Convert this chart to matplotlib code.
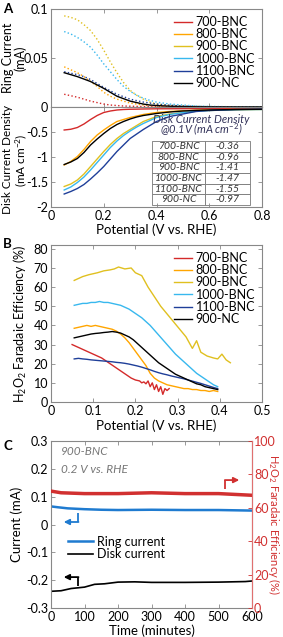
import numpy as np
import matplotlib.pyplot as plt

plt.rcParams['font.family'] = ['Lato', 'DejaVu Sans']
plt.rcParams['mathtext.fontset'] = 'custom'
plt.rcParams['mathtext.rm'] = 'Lato'
plt.rcParams['mathtext.it'] = 'Lato:italic'
plt.rcParams['font.size'] = 9

names = ['700-BNC', '800-BNC', '900-BNC', '1000-BNC', '1100-BNC', '900-NC']
colors = ['#d42a2a', '#ffa500', '#e0c020', '#38b8ee', '#1f3f99', 'black']

# panel A: ring / disk currents vs potential
E_A = [0.05, 0.075, 0.1, 0.125, 0.15, 0.175, 0.2, 0.225, 0.25, 0.275, 0.3, 0.325, 0.35,
       0.375, 0.4, 0.45, 0.5, 0.55, 0.6, 0.7, 0.8]
ring = {
    '700-BNC': [0.013, 0.0115, 0.010, 0.008, 0.006, 0.0045, 0.003, 0.002, 0.0015, 0.001, 0.0008,
                0.0006, 0.0005, 0.0004, 0.0003, 0.0002, 0.0001, 0, 0, 0, 0],
    '800-BNC': [0.041, 0.038, 0.035, 0.031, 0.026, 0.021, 0.015, 0.011, 0.008, 0.006, 0.004,
                0.003, 0.002, 0.0015, 0.001, 0.0006, 0.0004, 0.0002, 0.0001, 0, 0],
    '900-BNC': [0.093, 0.0915, 0.089, 0.084, 0.078, 0.069, 0.058, 0.046, 0.035, 0.025, 0.017,
                0.012, 0.008, 0.005, 0.003, 0.0015, 0.001, 0.0006, 0.0004, 0.0002, 0.0001],
    '1000-BNC': [0.077, 0.0745, 0.071, 0.0665, 0.061, 0.053, 0.044, 0.036, 0.028, 0.021, 0.016,
                 0.012, 0.009, 0.0068, 0.005, 0.003, 0.002, 0.001, 0.0006, 0.0002, 0.0001],
    '1100-BNC': [0.036, 0.0345, 0.033, 0.031, 0.028, 0.024, 0.020, 0.0165, 0.013, 0.0105, 0.008,
                 0.0065, 0.005, 0.004, 0.003, 0.0018, 0.001, 0.0006, 0.0003, 0.0001, 0],
    '900-NC': [0.035, 0.033, 0.031, 0.0285, 0.026, 0.0225, 0.019, 0.015, 0.011, 0.0085, 0.006,
               0.0045, 0.003, 0.002, 0.0015, 0.0008, 0.0004, 0.0002, 0.0001, 0, 0],
}
disk = {
    '700-BNC': [-0.46, -0.445, -0.41, -0.34, -0.25, -0.17, -0.11, -0.08, -0.06, -0.05, -0.045,
                -0.043, -0.04, -0.038, -0.036, -0.035, -0.034, -0.033, -0.032, -0.031, -0.03],
    '800-BNC': [-1.16, -1.09, -0.99, -0.85, -0.69, -0.56, -0.46, -0.37, -0.29, -0.25, -0.21,
                -0.18, -0.15, -0.13, -0.11, -0.09, -0.075, -0.065, -0.058, -0.05, -0.045],
    '900-BNC': [-1.59, -1.54, -1.46, -1.34, -1.19, -1.04, -0.89, -0.75, -0.63, -0.53, -0.45,
                -0.37, -0.29, -0.24, -0.19, -0.14, -0.11, -0.085, -0.07, -0.055, -0.05],
    '1000-BNC': [-1.66, -1.6, -1.51, -1.4, -1.26, -1.11, -0.96, -0.81, -0.68, -0.57, -0.48,
                 -0.4, -0.33, -0.27, -0.21, -0.15, -0.11, -0.085, -0.07, -0.055, -0.05],
    '1100-BNC': [-1.74, -1.69, -1.63, -1.55, -1.44, -1.32, -1.19, -1.04, -0.89, -0.76, -0.63,
                 -0.54, -0.45, -0.37, -0.29, -0.19, -0.14, -0.09, -0.07, -0.05, -0.04],
    '900-NC': [-1.15, -1.1, -1.03, -0.91, -0.76, -0.64, -0.53, -0.43, -0.35, -0.29, -0.24,
               -0.2, -0.17, -0.15, -0.13, -0.1, -0.08, -0.068, -0.06, -0.05, -0.045],
}
disk_01V = ['-0.36', '-0.96', '-1.41', '-1.47', '-1.55', '-0.97']

# panel B: H2O2 faradaic efficiency
E_700 = [0.05, 0.06, 0.07, 0.08, 0.09, 0.10, 0.11, 0.12, 0.13, 0.14, 0.15, 0.16, 0.17, 0.18, 0.19,
         0.20, 0.21, 0.215, 0.22, 0.225, 0.23, 0.235, 0.24, 0.245, 0.25, 0.255, 0.26, 0.265,
         0.27, 0.275, 0.28]
FE_700 = [30, 29, 28, 27, 26, 25, 24, 23, 21.5, 20, 18.5, 17, 15.5, 14, 12.5,
          11.5, 11, 10, 10.5, 9.5, 11, 8, 10, 6.5, 9, 5.5, 8, 4, 7, 6, 7]
E_B = [0.055, 0.065, 0.075, 0.085, 0.095, 0.105, 0.115, 0.125, 0.135, 0.145, 0.155, 0.165,
       0.175, 0.185, 0.195, 0.205, 0.215, 0.225, 0.235, 0.245, 0.255, 0.265, 0.275, 0.285,
       0.295, 0.305, 0.315, 0.325, 0.335, 0.345, 0.355, 0.365, 0.375, 0.385, 0.395]
FE_800 = [38.5, 39, 39.5, 40, 39.5, 40, 39.5, 39, 38.5, 38, 37, 35.5, 33.5, 31, 28, 25, 22, 19,
          15, 12.5, 11, 10, 9, 8.5, 8, 7.5, 7, 7, 6.5, 6.5, 6, 6, 5.5, 6, 5.5]
FE_1000 = [50.5, 51, 51.5, 51.5, 52, 52, 52.5, 52, 52, 51.5, 51, 50.5, 49.5, 48.5, 47, 45.5, 44,
           42, 40, 37.5, 35, 32.5, 30, 27.5, 25, 23, 21, 19, 17, 15, 13.5, 12, 10.5, 9, 8]
FE_1100 = [22.5, 22.8, 22.5, 22.3, 22, 21.8, 21.6, 21.4, 21.2, 21, 20.7, 20.5, 20.2, 19.8, 19.3,
           18.8, 18.2, 17.5, 16.8, 16, 15.3, 14.7, 14.2, 13.6, 13.1, 12.6, 12.1, 11.5, 10.9, 10.3,
           9.7, 9, 8.3, 7.6, 7]
FE_NC = [33.5, 34, 34.5, 35, 35.5, 35.8, 36, 36.3, 36.5, 36.8, 36.5, 36, 35, 34, 32.5, 30.5, 28.5,
         26.5, 24.5, 22.5, 20.5, 19, 17.5, 16, 14.5, 13.5, 12.5, 11.5, 10.5, 9.5, 9, 8, 7.5, 7, 6.5]
E_900 = [0.055, 0.065, 0.075, 0.09, 0.1, 0.11, 0.125, 0.14, 0.15, 0.16, 0.175, 0.19, 0.2, 0.215,
         0.23, 0.245, 0.26, 0.275, 0.29, 0.305, 0.32, 0.335, 0.345, 0.355, 0.37, 0.385, 0.395,
         0.405, 0.415, 0.425]
FE_900 = [63.5, 64.5, 65.5, 66.5, 67, 67.5, 68.5, 69, 69.5, 70.5, 69.5, 70, 67.5, 66, 60, 55, 50,
          46, 42, 38, 34, 28, 32, 26, 24, 23, 22.5, 25, 22, 20.5]

# panel C: stability test of 900-BNC at 0.2 V
t_ring = [0, 20, 50, 100, 150, 200, 300, 400, 500, 600]
I_ring = [0.065, 0.062, 0.058, 0.055, 0.053, 0.052, 0.053, 0.052, 0.052, 0.050]
t_disk = [0, 30, 60, 100, 130, 160, 200, 250, 300, 400, 500, 580, 600]
I_disk = [-0.24, -0.238, -0.23, -0.225, -0.215, -0.213, -0.207, -0.206, -0.208, -0.208, -0.207, -0.205, -0.203]
t_fe = [0, 30, 100, 200, 300, 400, 500, 600]
FE_t = [70, 69, 68.5, 68.5, 69, 68.5, 68.5, 67.5]

W, H = 283, 637
fig = plt.figure(figsize=(W / 100, H / 100), dpi=100)
LAB = 9.5


def px_axes(x0, y0, x1, y1):
    return fig.add_axes([x0 / W, 1 - y1 / H, (x1 - x0) / W, (y1 - y0) / H])


def style(ax, right=True):
    for s in ax.spines.values():
        s.set_color('#888888')
        s.set_linewidth(0.8)
    ax.tick_params(direction='in', length=3, width=0.6, color='#888888', top=True, right=right,
                   labelsize=9, pad=2)


# ---- A
axr = px_axes(51, 9, 262, 107)
axd = px_axes(51, 107, 262, 207)
for n, c in zip(names, colors):
    axr.plot(E_A, ring[n], color=c, lw=1.0, ls='-' if n == '900-NC' else ':')
    axd.plot(E_A, disk[n], color=c, lw=1.0, label=n)
axr.set_xlim(0, 0.8)
axr.set_ylim(0, 0.1)
axr.set_xticks([0, 0.2, 0.4, 0.6, 0.8])
axr.set_xticklabels([])
axr.set_yticks([0, 0.05, 0.1])
axr.set_yticklabels(['0', '0.05', '0.1'])
axr.set_ylabel('Ring Current\n(mA)', fontsize=9, linespacing=1.0)
axr.yaxis.set_label_coords((27 - 51) / 211, 0.5)
style(axr)
h, l = axd.get_legend_handles_labels()
axr.legend(h, l, loc='upper right', frameon=False, fontsize=9, handlelength=1.4,
           handletextpad=0.3, labelspacing=0.02, borderaxespad=0.15)

axd.set_xlim(0, 0.8)
axd.set_ylim(-2, 0)
axd.set_xticks([0, 0.2, 0.4, 0.6, 0.8])
axd.set_xticklabels(['0', '0.2', '0.4', '0.6', '0.8'])
axd.set_yticks([-2, -1.5, -1, -0.5, 0])
axd.set_yticklabels(['-2', '-1.5', '-1', '-0.5', ''])
axd.set_ylabel('Disk Current Density\n(mA cm$^{-2}$)', fontsize=8.5, linespacing=1.0)
axd.yaxis.set_label_coords((29 - 51) / 211, 0.47)
axd.set_xlabel('Potential (V vs. RHE)', fontsize=LAB, labelpad=1)
style(axd)
axd.text(0.71, 0.875, 'Disk Current Density', transform=axd.transAxes, ha='center', va='center',
         style='italic', fontsize=8, color='#33335a')
axd.text(0.71, 0.77, '@0.1V (mA cm$^{-2}$)', transform=axd.transAxes, ha='center', va='center',
         style='italic', fontsize=8, color='#33335a')
tab = axd.table(cellText=[[n, v] for n, v in zip(names, disk_01V)],
                bbox=[0.479, 0.02, 0.464, 0.64], cellLoc='center')
tab.auto_set_font_size(False)
for (r, cidx), cell in tab.get_celld().items():
    cell.set_edgecolor('#777777')
    cell.set_linewidth(0.6)
    cell.get_text().set_fontsize(7.5)
    cell.get_text().set_fontstyle('italic')
    cell.get_text().set_color('#333333')
    cell.set_width(0.25 if cidx == 0 else 0.214)

# ---- B
axb = px_axes(51, 245, 262, 402)
axb.plot(E_700, FE_700, color=colors[0], lw=1.0, label=names[0])
axb.plot(E_B, FE_800, color=colors[1], lw=1.0, label=names[1])
axb.plot(E_900, FE_900, color=colors[2], lw=1.0, label=names[2])
axb.plot(E_B, FE_1000, color=colors[3], lw=1.0, label=names[3])
axb.plot(E_B, FE_1100, color=colors[4], lw=1.0, label=names[4])
axb.plot(E_B, FE_NC, color=colors[5], lw=1.0, label=names[5])
axb.set_xlim(0, 0.5)
axb.set_ylim(0, 82)
axb.set_xticks([0, 0.1, 0.2, 0.3, 0.4, 0.5])
axb.set_xticklabels(['0', '0.1', '0.2', '0.3', '0.4', '0.5'])
axb.set_yticks(range(0, 81, 10))
axb.set_ylabel('H$_2$O$_2$ Faradaic Efficiency (%)', fontsize=LAB - 0.5, labelpad=3)
axb.set_xlabel('Potential (V vs. RHE)', fontsize=LAB, labelpad=2)
style(axb)
axb.legend(loc='upper right', frameon=False, fontsize=9, handlelength=1.4,
           handletextpad=0.3, labelspacing=0.02, borderaxespad=0.15)

# ---- C
axc = px_axes(51, 441, 252, 608)
c_ring, c_fe = '#1f7bd0', '#d13030'
axc.plot(t_ring, I_ring, color=c_ring, lw=1.8, label='Ring current')
axc.plot(t_disk, I_disk, color='black', lw=1.2, label='Disk current')
axc.set_xlim(0, 600)
axc.set_ylim(-0.3, 0.3)
axc.set_xticks(range(0, 601, 100))
axc.set_yticks([-0.3, -0.2, -0.1, 0, 0.1, 0.2, 0.3])
axc.set_yticklabels(['-0.3', '-0.2', '-0.1', '0', '0.1', '0.2', '0.3'])
axc.set_ylabel('Current (mA)', fontsize=LAB, labelpad=2)
axc.set_xlabel('Time (minutes)', fontsize=LAB, labelpad=1)
style(axc, right=False)
axc.legend(loc='center left', bbox_to_anchor=(0.03, 0.36), frameon=False, fontsize=9,
           handlelength=2.0, handletextpad=0.3, labelspacing=0.05)
axc.text(0.05, 0.97, '900-BNC', transform=axc.transAxes, ha='left', va='top',
         style='italic', color='#777777', fontsize=8.5)
axc.text(0.05, 0.86, '0.2 V vs. RHE', transform=axc.transAxes, ha='left', va='top',
         style='italic', color='#777777', fontsize=8.5)
# bent arrows showing which axis each trace belongs to
arr = dict(arrowstyle='-|>', lw=1.3, mutation_scale=8, shrinkA=0, shrinkB=0)
axc.annotate('', xy=(38, 0.009), xytext=(82, 0.009), arrowprops=dict(arr, color=c_ring))
axc.plot([82, 82], [0.009, 0.043], color=c_ring, lw=1.3, solid_capstyle='butt')
axc.annotate('', xy=(38, -0.189), xytext=(82, -0.189), arrowprops=dict(arr, color='black'))
axc.plot([82, 82], [-0.189, -0.22], color='black', lw=1.3, solid_capstyle='butt')

ax2 = axc.twinx()
ax2.plot(t_fe, FE_t, color=c_fe, lw=2.5)
ax2.set_ylim(0, 100)
ax2.set_yticks(range(0, 101, 20))
ax2.tick_params(direction='in', length=3, width=0.6, color=c_fe, labelcolor=c_fe,
                labelsize=9, pad=1.5)
for s in ['left', 'top', 'bottom']:
    ax2.spines[s].set_visible(False)
ax2.spines['right'].set_color('#e07070')
ax2.set_ylabel('H$_2$O$_2$ Faradaic Efficiency (%)', color=c_fe, fontsize=8, rotation=270)
ax2.yaxis.set_label_coords((282 - 51) / 201, 0.5)
ax2.annotate('', xy=(562, 76.6), xytext=(519, 76.6), arrowprops=dict(arr, color=c_fe))
ax2.plot([519, 519], [76.6, 71.5], color=c_fe, lw=1.3, solid_capstyle='butt')

for lab, y in [('A', 3), ('B', 238), ('C', 440)]:
    fig.text(3 / W, 1 - y / H, lab, fontsize=9.5, fontweight='bold', va='top', ha='left')

fig.savefig('out.png', dpi=100)
